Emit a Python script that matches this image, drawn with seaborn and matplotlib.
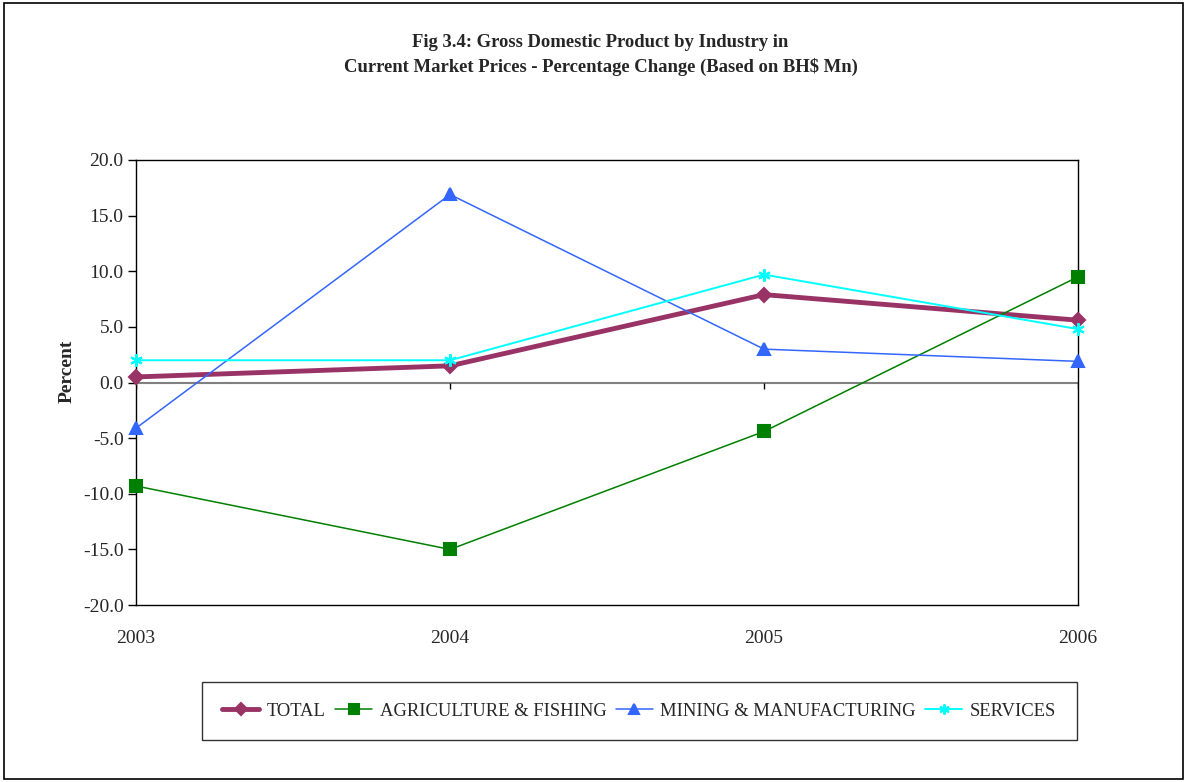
import numpy as np
import pandas as pd
import matplotlib
matplotlib.use("Agg")
import matplotlib.pyplot as plt
import seaborn as sns
from matplotlib.patches import Rectangle

# data
years = [2003, 2004, 2005, 2006]
total = [0.5, 1.5, 7.9, 5.6]
agriculture = [-9.3, -15.0, -4.4, 9.5]
mining = [-4.1, 16.9, 3.0, 1.9]
services = [2.0, 2.0, 9.7, 4.8]

series_names = ["TOTAL", "AGRICULTURE & FISHING", "MINING & MANUFACTURING", "SERVICES"]
series_values = [total, agriculture, mining, services]

df = pd.DataFrame({
    "year": np.tile(years, len(series_names)),
    "value": np.concatenate(series_values),
    "series": np.repeat(series_names, len(years)),
})

sns.set_style("white")
plt.rcParams["font.family"] = ["Liberation Serif", "DejaVu Serif"]

styles = {
    "TOTAL": dict(color="#993366", lw=3.5, marker="D", ms=7.5),
    "AGRICULTURE & FISHING": dict(color="#008000", lw=1.1, marker="s", ms=9),
    "MINING & MANUFACTURING": dict(color="#3366FF", lw=1.1, marker="^", ms=9),
    "SERVICES": dict(color="#00FFFF", lw=1.4, marker=(6, 2, 0), ms=9),
}

fig = plt.figure(figsize=(11.87, 7.82), dpi=100)
ax = fig.add_axes([0.1146, 0.2263, 0.7936, 0.5691])

ax.axhline(0, color="#808080", lw=1.5, zorder=1)
ax.vlines(years, -0.6, 0, color="black", lw=1, zorder=1)

for name in series_names:
    st = styles[name]
    sub = df[df["series"] == name]
    sns.lineplot(data=sub, x="year", y="value", ax=ax, color=st["color"],
                 linewidth=st["lw"], marker=st["marker"], markersize=st["ms"],
                 markeredgecolor=st["color"], markeredgewidth=1.5,
                 label=name, legend=False, zorder=3, clip_on=False)

ax.set_xlim(2003, 2006)
ax.set_ylim(-20, 20)
ax.set_yticks(np.arange(-20, 20.1, 5))
ax.set_yticklabels([f"{v:.1f}" for v in np.arange(-20, 20.1, 5)])
ax.set_xticks(years)
ax.set_xticklabels([str(y) for y in years])
ax.tick_params(axis="x", length=0, pad=18, labelsize=14)
ax.tick_params(axis="y", direction="out", length=6, width=1, color="black",
               labelsize=14, pad=3, left=True)
ax.set_xlabel("")
ax.set_ylabel("Percent", fontsize=14, fontweight="bold")
ax.yaxis.set_label_coords(-0.064, 0.525)
for sp in ax.spines.values():
    sp.set_color("black")
    sp.set_linewidth(1)

fig.text(0.506, 0.946, "Fig 3.4: Gross Domestic Product by Industry in",
         ha="center", va="center", fontsize=13.4, fontweight="bold")
fig.text(0.506, 0.915, "Current Market Prices - Percentage Change (Based on BH$ Mn)",
         ha="center", va="center", fontsize=13.4, fontweight="bold")

handles, labels = ax.get_legend_handles_labels()
leg = fig.legend(handles, labels, loc="center", bbox_to_anchor=(0.5385, 0.0905),
                 ncol=4, frameon=True, fancybox=False, edgecolor="black",
                 fontsize=13.4, handlelength=2.0, columnspacing=0.5,
                 handletextpad=0.4, borderpad=1.1, borderaxespad=0,
                 markerscale=0.8)
leg.get_frame().set_linewidth(1)

fig.patches.append(Rectangle((0.003, 0.004), 0.994, 0.992, transform=fig.transFigure,
                             fill=False, edgecolor="black", lw=1.2))

fig.savefig("out.png", dpi=100)
